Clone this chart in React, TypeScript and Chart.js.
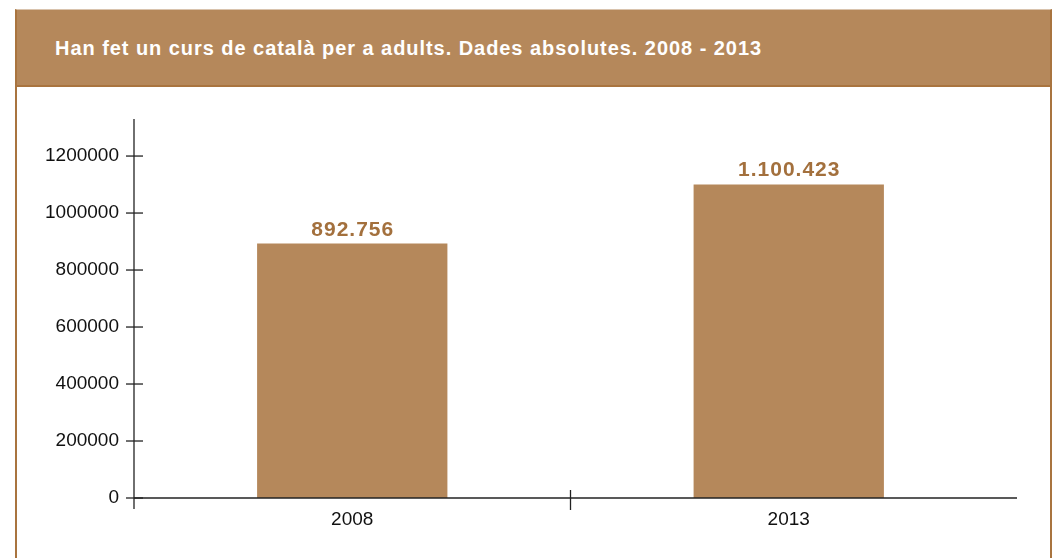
import React, { useEffect, useRef } from "react";
import { Chart, registerables } from "chart.js";

Chart.register(...registerables);

const title = "Han fet un curs de català per a adults. Dades absolutes. 2008 - 2013";
const categories = ["2008", "2013"];
const values = [892756, 1100423];
const valueLabels = ["892.756", "1.100.423"];
const yTicks = [0, 200000, 400000, 600000, 800000, 1000000, 1200000];
const yMax = 1330000;

const BROWN = "#b5885b";
const LABEL_BROWN = "#a3703d";
const BORDER_BROWN = "#a9743f";
const AXIS = "#222222";
const FONT = "'Liberation Sans', Arial, Helvetica, sans-serif";

const axesPlugin = {
  id: "customAxes",
  afterDatasetsDraw(chart: any) {
    const { ctx, chartArea, scales } = chart;
    const y = scales.y;
    const x = scales.x;
    const zeroY = y.getPixelForValue(0);
    const left = chartArea.left;
    ctx.save();
    ctx.strokeStyle = AXIS;
    ctx.lineWidth = 1.3;
    ctx.beginPath();
    ctx.moveTo(left, chartArea.top);
    ctx.lineTo(left, zeroY + 11);
    ctx.stroke();
    ctx.beginPath();
    ctx.moveTo(left, zeroY);
    ctx.lineTo(chartArea.right + 10, zeroY);
    ctx.stroke();
    yTicks.forEach((v) => {
      const py = y.getPixelForValue(v);
      ctx.beginPath();
      ctx.moveTo(left - 8, py);
      ctx.lineTo(left + 9, py);
      ctx.stroke();
    });
    for (let i = 0; i < categories.length - 1; i++) {
      const px = (x.getPixelForValue(i) + x.getPixelForValue(i + 1)) / 2;
      ctx.beginPath();
      ctx.moveTo(px, zeroY - 8);
      ctx.lineTo(px, zeroY + 12);
      ctx.stroke();
    }
    ctx.restore();
  },
};

const valueLabelPlugin = {
  id: "valueLabels",
  afterDatasetsDraw(chart: any) {
    const { ctx } = chart;
    const meta = chart.getDatasetMeta(0);
    ctx.save();
    ctx.fillStyle = LABEL_BROWN;
    ctx.font = `bold 21px ${FONT}`;
    try {
      (ctx as any).letterSpacing = "1px";
    } catch (e) {}
    ctx.textAlign = "center";
    ctx.textBaseline = "alphabetic";
    meta.data.forEach((bar: any, i: number) => {
      ctx.fillText(valueLabels[i], bar.x + 0.5, bar.y - 8);
    });
    ctx.restore();
  },
};

export default function App() {
  const canvasRef = useRef<HTMLCanvasElement | null>(null);

  useEffect(() => {
    if (!canvasRef.current) return;
    const chart = new Chart(canvasRef.current, {
      type: "bar",
      data: {
        labels: categories,
        datasets: [
          {
            data: values,
            backgroundColor: BROWN,
            borderWidth: 0,
            barPercentage: 0.436,
            categoryPercentage: 1,
          },
        ],
      },
      options: {
        responsive: false,
        animation: false,
        layout: { padding: { top: 119, right: 48, bottom: 20, left: 0 } },
        plugins: {
          legend: { display: false },
          tooltip: { enabled: false },
          title: { display: false },
        },
        scales: {
          x: {
            grid: { display: false, drawTicks: false },
            border: { display: false },
            ticks: {
              color: "#111111",
              font: { family: FONT, size: 19 },
              padding: 10,
            },
            afterFit: (s: any) => {
              s.height = 40;
            },
          },
          y: {
            min: 0,
            max: yMax,
            grid: { display: false, drawTicks: false },
            border: { display: false },
            afterBuildTicks: (s: any) => {
              s.ticks = yTicks.map((v) => ({ value: v }));
            },
            ticks: {
              color: "#111111",
              font: { family: FONT, size: 19 },
              padding: 15,
              callback: (v: any) => String(v),
            },
            afterFit: (s: any) => {
              s.width = 134;
            },
          },
        },
      },
      plugins: [axesPlugin, valueLabelPlugin],
    });
    return () => chart.destroy();
  }, []);

  return (
    <div
      style={{
        position: "fixed",
        left: 0,
        top: 0,
        width: 1055,
        height: 558,
        overflow: "hidden",
        background: "#ffffff",
      }}
    >
      <div
        style={{
          position: "absolute",
          left: 15,
          top: 9,
          width: 1037,
          height: 549,
          boxSizing: "border-box",
          borderLeft: `2px solid ${BORDER_BROWN}`,
          borderRight: `2px solid ${BORDER_BROWN}`,
        }}
      />
      <div
        style={{
          position: "absolute",
          left: 15,
          top: 9,
          width: 1037,
          height: 78,
          boxSizing: "border-box",
          background: BROWN,
          borderTop: "1px solid #d9c3ad",
          borderBottom: `2px solid ${BORDER_BROWN}`,
          borderLeft: `2px solid ${BORDER_BROWN}`,
          borderRight: `2px solid ${BORDER_BROWN}`,
          display: "flex",
          alignItems: "center",
          paddingLeft: 38,
          paddingTop: 2,
          color: "#ffffff",
          fontFamily: FONT,
          fontWeight: "bold",
          fontSize: 20,
          letterSpacing: "0.95px",
          whiteSpace: "nowrap",
        }}
      >
        {title}
      </div>
      <canvas
        ref={canvasRef}
        width={1055}
        height={558}
        style={{ position: "absolute", left: 0, top: 0, width: 1055, height: 558 }}
      />
    </div>
  );
}
